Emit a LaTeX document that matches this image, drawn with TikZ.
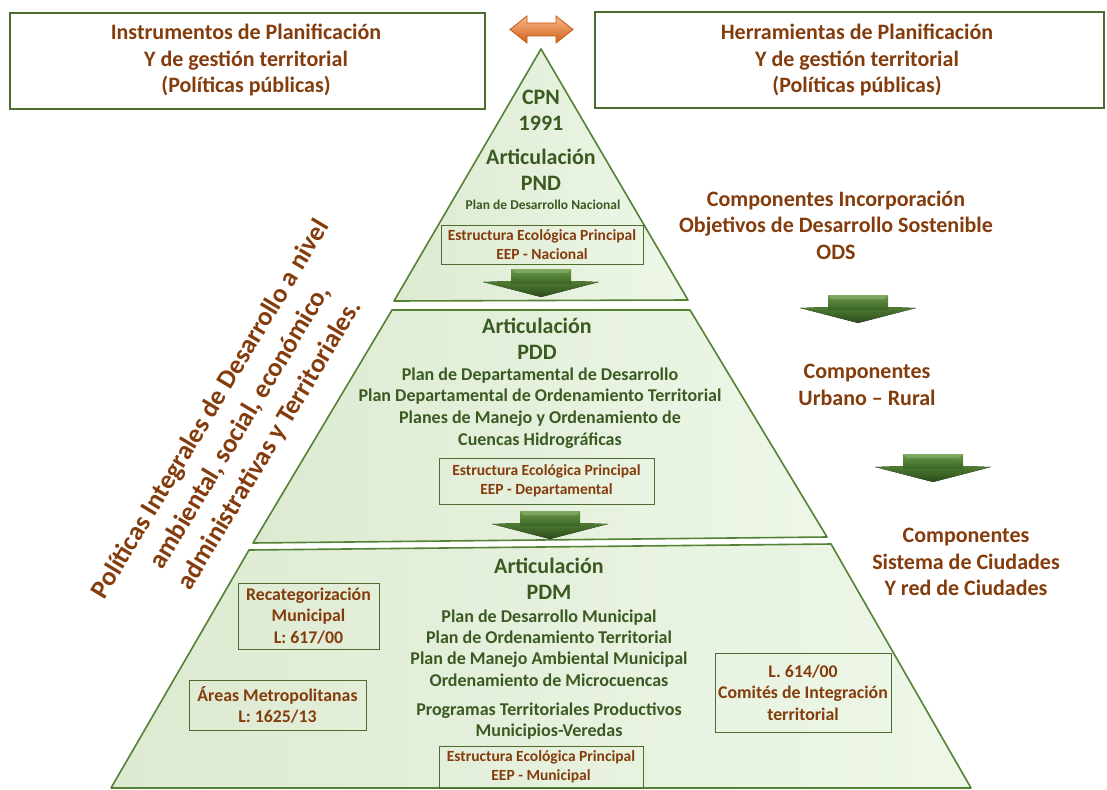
\documentclass[tikz,border=0pt]{standalone}
\usepackage{fontspec}
\setmainfont{Carlito}
\definecolor{brn}{HTML}{843C0C}
\definecolor{dgrn}{HTML}{3A5A22}
\definecolor{edgeg}{HTML}{548235}
\definecolor{boxg}{HTML}{4E6B30}
\definecolor{pfill}{HTML}{DDEAD1}
\definecolor{pfillL}{HTML}{EEF7E8}
\definecolor{ash1}{HTML}{6A9A45}
\definecolor{ash2}{HTML}{3D6626}
\definecolor{ahd1}{HTML}{4F7D32}
\definecolor{ahd2}{HTML}{2C4A1A}
\definecolor{or1}{HTML}{F8B88B}
\definecolor{or2}{HTML}{D0601A}
\definecolor{orE}{HTML}{C55A11}
\tikzset{
  fs/.style 2 args={font=\fontsize{#1}{#2}\selectfont\bfseries},
  brtext/.style={text=brn, align=center, inner sep=0pt},
  grtext/.style={text=dgrn, align=center, inner sep=0pt},
  level/.style={draw=edgeg, line width=1.6pt, line join=round,
     left color=pfill, middle color=pfill, right color=pfillL},
  topbox/.style={draw=boxg, line width=1.8pt, fill=white, inner sep=0pt},
  ibox/.style={draw=boxg, line width=0.9pt, text=brn, align=center, inner sep=0pt},
}
\newcommand\garrow[2]{%
  \fill[top color=ahd1, bottom color=ahd2] ({#1-58},{#2+13}) -- ({#1-30},{#2+12}) -- ({#1+30},{#2+12}) -- ({#1+58},{#2+13}) -- (#1,{#2+28}) -- cycle;
  \fill[top color=ash1, bottom color=ash2] ({#1-30},#2) rectangle ({#1+30},{#2+14});
  \fill[ash1!70!white, opacity=0.5] ({#1-30},#2) -- ({#1+30},#2) -- ({#1+26},{#2+4}) -- ({#1-26},{#2+4}) -- cycle;
}
\begin{document}
\begin{tikzpicture}[x=1pt,y=-1pt]
\useasboundingbox (0,0) rectangle (1107,789);
\fill[white] (0,0) rectangle (1107,789);

% top boxes
\node[topbox, minimum width=475pt, minimum height=96pt] (boxL) at (247.5,61) {};
\node[brtext, fs={22}{26.5}] (txtL) at (246,60) {Instrumentos de Planificación\\Y de gestión territorial\\(Políticas públicas)};
\node[topbox, minimum width=509pt, minimum height=96pt] (boxR) at (849.5,60) {};
\node[brtext, fs={22}{26.5}] (txtR) at (857,60) {Herramientas de Planificación\\Y de gestión territorial\\(Políticas públicas)};

% orange double arrow
\draw[orE, line width=0.8pt, top color=or1, bottom color=or2] (510,29.5) -- (527,16) -- (527,23) -- (556,23) -- (556,16) -- (573,29.5) -- (556,43) -- (556,36) -- (527,36) -- (527,43) -- cycle;

% pyramid levels
\draw[level] (541,49) -- (688,300) -- (394,301) -- cycle;
\draw[level] (392,310) -- (690,310) -- (827,537) -- (253,543) -- cycle;
\draw[level] (249,550) -- (831,544) -- (971,788) -- (111,788) -- cycle;

% top level texts
\node[grtext, fs={22}{26}] (cpn) at (541,110) {CPN\\1991};
\node[grtext, fs={22}{26}] (artN) at (541,170) {Articulación\\PND};
\node[grtext, fs={13.5}{16}] (pnd) at (543,205) {Plan de Desarrollo Nacional};
\node[ibox, fs={15.5}{19}, minimum width=202pt, minimum height=39pt] (eepN) at (542,244.5) {Estructura Ecológica Principal\\EEP - Nacional};
\garrow{541}{269}

% middle level texts
\node[grtext, fs={22}{26}] (artD) at (537,338.5) {Articulación\\PDD};
\node[grtext, fs={18}{21.7}] (pdd) at (540,408) {Plan de Departamental de Desarrollo\\Plan Departamental de Ordenamiento Territorial\\Planes de Manejo y Ordenamiento de\\Cuencas Hidrográficas};
\node[ibox, fs={15.5}{19}, minimum width=215pt, minimum height=46pt] (eepD) at (546.5,481) {Estructura Ecológica Principal\\EEP - Departamental};
\garrow{550}{511}

% bottom level texts
\node[grtext, fs={22}{26}] (artM) at (549,578.5) {Articulación\\PDM};
\node[grtext, fs={18}{21.3}] (pdm) at (549,648) {Plan de Desarrollo Municipal\\Plan de Ordenamiento Territorial\\Plan de Manejo Ambiental Municipal\\Ordenamiento de Microcuencas};
\node[grtext, fs={18}{21.5}] (prog) at (549,721) {Programas Territoriales Productivos\\Municipios-Veredas};
\node[ibox, fs={15.5}{19}, minimum width=204pt, minimum height=42pt] (eepM) at (541,767) {Estructura Ecológica Principal\\EEP - Municipal};
\node[ibox, fs={17.8}{21.5}, minimum width=141pt, minimum height=66pt] (recat) at (308.5,616) {Recategorización\\Municipal\\L: 617/00};
\node[ibox, fs={17.8}{21.5}, minimum width=177pt, minimum height=50pt] (areas) at (277.5,705) {Áreas Metropolitanas\\L: 1625/13};
\node[ibox, fs={17.8}{21.5}, minimum width=176pt, minimum height=79pt] (ley614) at (803,692.5) {L. 614/00\\Comités de Integración\\territorial};

% rotated text
\node[brtext, fs={26.5}{34.5}, rotate=59] (pol) at (240.5,427.5) {Políticas Integrales de Desarrollo a nivel\\ambiental, social, económico,\\administrativas y Territoriales.};

% right side texts
\node[brtext, fs={22}{26.5}] (ods) at (836,225) {Componentes Incorporación\\Objetivos de Desarrollo Sostenible\\ODS};
\garrow{858}{295}
\node[brtext, fs={22}{26.5}] (urb) at (867,385) {Componentes\\Urbano -- Rural};
\garrow{933}{454}
\node[brtext, fs={22}{26.5}] (ciud) at (966,562) {Componentes\\Sistema de Ciudades\\Y red de Ciudades};
\end{tikzpicture}
\end{document}
